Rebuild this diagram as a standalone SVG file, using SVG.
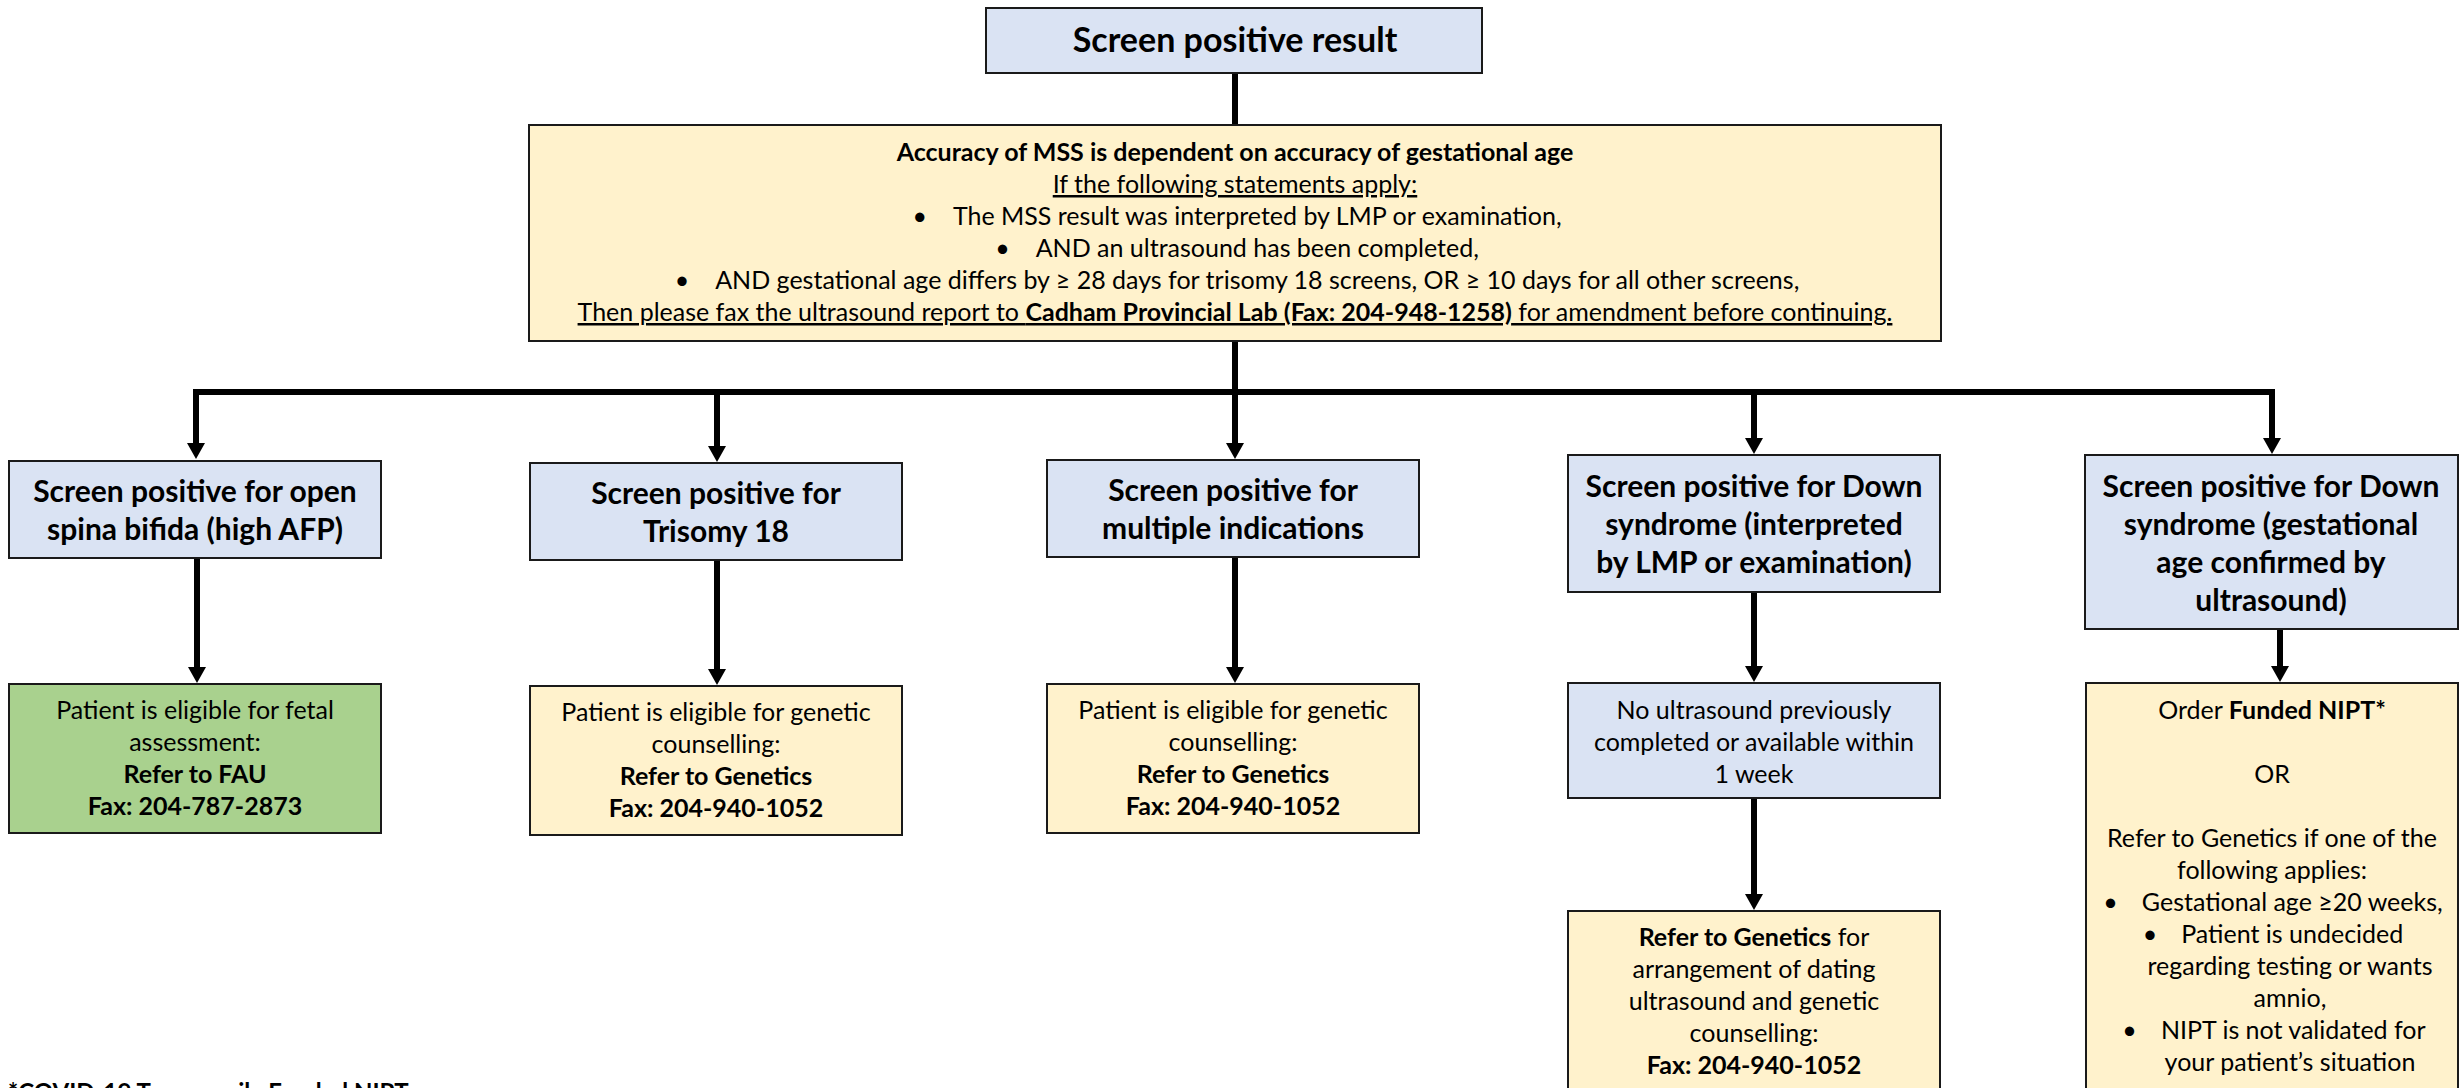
<svg xmlns="http://www.w3.org/2000/svg" width="2461" height="1088" viewBox="0 0 2461 1088">
<style>
  text { font-family: Lato, "Liberation Sans", sans-serif; fill: #000; }
  .box { stroke: #1a1a1a; stroke-width: 2; }
  .blue { fill: #DAE3F3; }
  .yellow { fill: #FFF2CC; }
  .green { fill: #A9D18E; }
  .t-top { font-size: 34px; font-weight: 700; }
  .t-head { font-size: 30px; font-weight: 700; }
  .t-body { font-size: 25px; }
  .b { font-weight: 700; }
  .u { text-decoration: underline; }
  .conn { stroke: #000; stroke-width: 6; fill: none; }
  .arrow { marker-end: url(#ah); }
</style>
<defs>
  <marker id="ah" viewBox="0 0 16 18" refX="1" refY="9" markerWidth="16" markerHeight="18" markerUnits="userSpaceOnUse" orient="auto">
    <path d="M0,0 L16,9 L0,18 z" fill="#000"/>
  </marker>
</defs>
<rect width="2461" height="1088" fill="#fff"/>

<g id="connectors">
  <line class="conn" x1="1235" y1="73" x2="1235" y2="125"/>
  <line class="conn" x1="1235" y1="341" x2="1235" y2="392"/>
  <line class="conn" x1="196" y1="392" x2="2272" y2="392" stroke-linecap="square"/>
  <line class="conn arrow" x1="196" y1="392" x2="196" y2="444"/>
  <line class="conn arrow" x1="717" y1="392" x2="717" y2="447"/>
  <line class="conn arrow" x1="1235" y1="392" x2="1235" y2="444"/>
  <line class="conn arrow" x1="1754" y1="392" x2="1754" y2="439"/>
  <line class="conn arrow" x1="2272" y1="392" x2="2272" y2="439"/>
  <line class="conn arrow" x1="197" y1="558" x2="197" y2="668"/>
  <line class="conn arrow" x1="717" y1="560" x2="717" y2="670"/>
  <line class="conn arrow" x1="1235" y1="557" x2="1235" y2="668"/>
  <line class="conn arrow" x1="1754" y1="592" x2="1754" y2="667"/>
  <line class="conn arrow" x1="2280" y1="629" x2="2280" y2="667"/>
  <line class="conn arrow" x1="1754" y1="798" x2="1754" y2="895"/>
</g>

<g id="n-top">
  <rect class="box blue" x="986" y="8" width="496" height="65"/>
  <text class="t-top" x="1235" y="52" text-anchor="middle">Screen positive result</text>
</g>

<g id="n-accuracy">
  <rect class="box yellow" x="529" y="125" width="1412" height="216"/>
  <g class="t-body" text-anchor="middle">
    <text x="1235" y="161" class="b">Accuracy of MSS is dependent on accuracy of gestational age</text>
    <text x="1235" y="193" class="u">If the following statements apply:</text>
    <text x="1237" y="225">•<tspan dx="26">The MSS result was interpreted by LMP or examination,</tspan></text>
    <text x="1237" y="257">•<tspan dx="26">AND an ultrasound has been completed,</tspan></text>
    <text x="1237" y="289">•<tspan dx="26">AND gestational age differs by ≥ 28 days for trisomy 18 screens, OR ≥ 10 days for all other screens,</tspan></text>
    <text x="1235" y="321" class="u">Then please fax the ultrasound report to <tspan class="b">Cadham Provincial Lab (Fax: 204-948-1258)</tspan> for amendment before continuing.</text>
  </g>
</g>

<g id="n-spina">
  <rect class="box blue" x="9" y="461" width="372" height="97"/>
  <g class="t-head" text-anchor="middle">
    <text x="195" y="502">Screen positive for open</text>
    <text x="195" y="540">spina bifida (high AFP)</text>
  </g>
</g>

<g id="n-t18">
  <rect class="box blue" x="530" y="463" width="372" height="97"/>
  <g class="t-head" text-anchor="middle">
    <text x="716" y="504">Screen positive for</text>
    <text x="716" y="542">Trisomy 18</text>
  </g>
</g>

<g id="n-multi">
  <rect class="box blue" x="1047" y="460" width="372" height="97"/>
  <g class="t-head" text-anchor="middle">
    <text x="1233" y="501">Screen positive for</text>
    <text x="1233" y="539">multiple indications</text>
  </g>
</g>

<g id="n-down-lmp">
  <rect class="box blue" x="1568" y="455" width="372" height="137"/>
  <g class="t-head" text-anchor="middle">
    <text x="1754" y="497">Screen positive for Down</text>
    <text x="1754" y="535">syndrome (interpreted</text>
    <text x="1754" y="573">by LMP or examination)</text>
  </g>
</g>

<g id="n-down-us">
  <rect class="box blue" x="2085" y="455" width="373" height="174"/>
  <g class="t-head" text-anchor="middle">
    <text x="2271" y="497">Screen positive for Down</text>
    <text x="2271" y="535">syndrome (gestational</text>
    <text x="2271" y="573">age confirmed by</text>
    <text x="2271" y="611">ultrasound)</text>
  </g>
</g>

<g id="n-fau">
  <rect class="box green" x="9" y="684" width="372" height="149"/>
  <g class="t-body" text-anchor="middle">
    <text x="195" y="719">Patient is eligible for fetal</text>
    <text x="195" y="751">assessment:</text>
    <text x="195" y="783" class="b">Refer to FAU</text>
    <text x="195" y="815" class="b">Fax: 204-787-2873</text>
  </g>
</g>

<g id="n-gen-t18">
  <rect class="box yellow" x="530" y="686" width="372" height="149"/>
  <g class="t-body" text-anchor="middle">
    <text x="716" y="721">Patient is eligible for genetic</text>
    <text x="716" y="753">counselling:</text>
    <text x="716" y="785" class="b">Refer to Genetics</text>
    <text x="716" y="817" class="b">Fax: 204-940-1052</text>
  </g>
</g>

<g id="n-gen-multi">
  <rect class="box yellow" x="1047" y="684" width="372" height="149"/>
  <g class="t-body" text-anchor="middle">
    <text x="1233" y="719">Patient is eligible for genetic</text>
    <text x="1233" y="751">counselling:</text>
    <text x="1233" y="783" class="b">Refer to Genetics</text>
    <text x="1233" y="815" class="b">Fax: 204-940-1052</text>
  </g>
</g>

<g id="n-no-us">
  <rect class="box blue" x="1568" y="683" width="372" height="115"/>
  <g class="t-body" text-anchor="middle">
    <text x="1754" y="719">No ultrasound previously</text>
    <text x="1754" y="751">completed or available within</text>
    <text x="1754" y="783">1 week</text>
  </g>
</g>

<g id="n-dating">
  <rect class="box yellow" x="1568" y="911" width="372" height="200"/>
  <g class="t-body" text-anchor="middle">
    <text x="1754" y="946"><tspan class="b">Refer to Genetics</tspan> for</text>
    <text x="1754" y="978">arrangement of dating</text>
    <text x="1754" y="1010">ultrasound and genetic</text>
    <text x="1754" y="1042">counselling:</text>
    <text x="1754" y="1074" class="b">Fax: 204-940-1052</text>
  </g>
</g>

<g id="n-nipt">
  <rect class="box yellow" x="2086" y="683" width="372" height="430"/>
  <g class="t-body" text-anchor="middle">
    <text x="2272" y="719">Order <tspan class="b">Funded NIPT*</tspan></text>
    <text x="2272" y="783">OR</text>
    <text x="2272" y="847">Refer to Genetics if one of the</text>
    <text x="2272" y="879">following applies:</text>
    <text x="2273" y="911">•<tspan dx="24">Gestational age ≥20 weeks,</tspan></text>
    <text x="2273" y="943">•<tspan dx="24">Patient is undecided</tspan></text>
    <text x="2290" y="975">regarding testing or wants</text>
    <text x="2290" y="1007">amnio,</text>
    <text x="2274" y="1039">•<tspan dx="24">NIPT is not validated for</tspan></text>
    <text x="2290" y="1071">your patient’s situation</text>
  </g>
</g>

<g id="footnote">
  <text x="8" y="1101" font-size="24" font-weight="700">*COVID-19 Temporarily Funded NIPT</text>
</g>
</svg>
